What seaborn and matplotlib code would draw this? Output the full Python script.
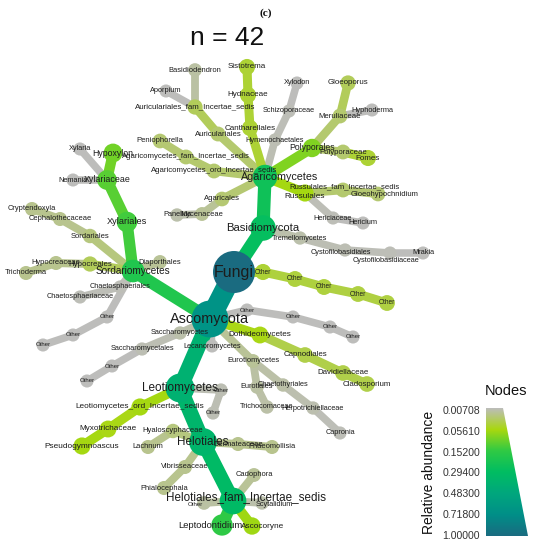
import numpy as np
import pandas as pd
import seaborn as sns
import matplotlib

matplotlib.use("Agg")

import matplotlib.pyplot as plt
from matplotlib.colors import LinearSegmentedColormap
from matplotlib.patches import Polygon

# heat tree: taxon ids ("#n" only makes repeated labels unique), parent, relative abundance,
# and the node position read off the original layout (pixels)
taxon = [
    "Fungi", "Ascomycota", "Basidiomycota",
    "Other#1", "Other#2", "Other#3", "Other#4", "Other#5",
    "Agaricomycetes", "Tremellomycetes", "Cystofilobasidiales", "Cystofilobasidiaceae", "Mrakia",
    "Polyporales", "Polyporaceae", "Fomes", "Meruliaceae", "Gloeoporus", "Hyphoderma",
    "Hymenochaetales", "Schizoporaceae", "Xylodon",
    "Cantharellales", "Hydnaceae", "Sistotrema",
    "Auriculariales", "Auriculariales_fam_Incertae_sedis", "Basidiodendron", "Aporpium",
    "Agaricomycetes_ord_Incertae_sedis", "Agaricomycetes_fam_Incertae_sedis", "Peniophorella",
    "Agaricales", "Mycenaceae", "Panellus",
    "Russulales", "Russulales_fam_Incertae_sedis", "Gloeohypochnidium", "Hericiaceae", "Hericium",
    "Sordariomycetes", "Xylariales", "Xylariaceae", "Hypoxylon", "Xylaria", "Nemania",
    "Sordariales", "Cephalothecaceae", "Cryptendoxyla",
    "Hypocreales", "Hypocreaceae", "Trichoderma", "Diaporthales",
    "Chaetosphaeriales", "Chaetosphaeriaceae", "Other#6", "Other#7", "Other#8",
    "Saccharomycetes", "Saccharomycetales", "Other#9", "Other#10",
    "Lecanoromycetes", "Other#11", "Other#12", "Other#13", "Other#14",
    "Dothideomycetes", "Capnodiales", "Davidiellaceae", "Cladosporium",
    "Eurotiomycetes", "Eurotiales", "Trichocomaceae", "Chaetothyriales",
    "Herpotrichiellaceae", "Capronia",
    "Leotiomycetes", "Other#15", "Other#16",
    "Leotiomycetes_ord_Incertae_sedis", "Myxotrichaceae", "Pseudogymnoascus",
    "Helotiales", "Hyaloscyphaceae", "Lachnum", "Vibrisseaceae", "Phialocephala",
    "Dermateaceae", "Phaeomollisia",
    "Helotiales_fam_Incertae_sedis", "Leptodontidium", "Ascocoryne", "Cadophora",
    "Scytalidium", "Other#17",
]
parent = [
    None, "Fungi", "Fungi",
    "Fungi", "Other#1", "Other#2", "Other#3", "Other#4",
    "Basidiomycota", "Basidiomycota", "Tremellomycetes", "Cystofilobasidiales", "Cystofilobasidiaceae",
    "Agaricomycetes", "Polyporales", "Polyporaceae", "Polyporales", "Meruliaceae", "Meruliaceae",
    "Agaricomycetes", "Hymenochaetales", "Schizoporaceae",
    "Agaricomycetes", "Cantharellales", "Hydnaceae",
    "Agaricomycetes", "Auriculariales", "Auriculariales_fam_Incertae_sedis",
    "Auriculariales_fam_Incertae_sedis",
    "Agaricomycetes", "Agaricomycetes_ord_Incertae_sedis", "Agaricomycetes_fam_Incertae_sedis",
    "Agaricomycetes", "Agaricales", "Mycenaceae",
    "Agaricomycetes", "Russulales", "Russulales_fam_Incertae_sedis", "Russulales", "Hericiaceae",
    "Ascomycota", "Sordariomycetes", "Xylariales", "Xylariaceae", "Xylariaceae", "Xylariaceae",
    "Sordariomycetes", "Sordariales", "Cephalothecaceae",
    "Sordariomycetes", "Hypocreales", "Hypocreaceae", "Sordariomycetes",
    "Sordariomycetes", "Chaetosphaeriales", "Sordariomycetes", "Other#6", "Other#7",
    "Ascomycota", "Saccharomycetes", "Saccharomycetales", "Other#9",
    "Ascomycota", "Ascomycota", "Other#11", "Other#12", "Other#13",
    "Ascomycota", "Dothideomycetes", "Capnodiales", "Davidiellaceae",
    "Ascomycota", "Eurotiomycetes", "Eurotiales", "Eurotiomycetes",
    "Chaetothyriales", "Herpotrichiellaceae",
    "Ascomycota", "Leotiomycetes", "Other#15",
    "Leotiomycetes", "Leotiomycetes_ord_Incertae_sedis", "Myxotrichaceae",
    "Leotiomycetes", "Helotiales", "Hyaloscyphaceae", "Helotiales", "Vibrisseaceae",
    "Helotiales", "Dermateaceae",
    "Helotiales", "Helotiales_fam_Incertae_sedis", "Helotiales_fam_Incertae_sedis",
    "Helotiales_fam_Incertae_sedis", "Helotiales_fam_Incertae_sedis", "Helotiales_fam_Incertae_sedis",
]
abundance = [
    1.0, 0.68, 0.28,
    0.045, 0.043, 0.043, 0.042, 0.042,
    0.25, 0.012, 0.010, 0.009, 0.008,
    0.09, 0.030, 0.045, 0.030, 0.035, 0.008,
    0.010, 0.009, 0.008,
    0.045, 0.045, 0.045,
    0.030, 0.035, 0.015, 0.008,
    0.030, 0.030, 0.028,
    0.028, 0.018, 0.012,
    0.06, 0.030, 0.028, 0.009, 0.008,
    0.20, 0.14, 0.12, 0.10, 0.008, 0.008,
    0.025, 0.020, 0.020,
    0.035, 0.020, 0.020, 0.018,
    0.009, 0.009, 0.008, 0.008, 0.008,
    0.012, 0.010, 0.008, 0.008,
    0.008, 0.008, 0.008, 0.008, 0.008,
    0.055, 0.040, 0.040, 0.040,
    0.018, 0.014, 0.013, 0.013,
    0.011, 0.009,
    0.40, 0.010, 0.010,
    0.06, 0.055, 0.06,
    0.36, 0.025, 0.020, 0.020, 0.020,
    0.020, 0.020,
    0.32, 0.16, 0.065, 0.018,
    0.012, 0.015,
]
node_x = [
    234, 210, 263,
    263, 295, 324, 358, 387,
    265, 300, 345, 390, 423,
    312, 343, 368, 340, 348, 372,
    275, 289, 297,
    250, 248, 247,
    218, 195, 195, 166,
    214, 186, 160,
    222, 202, 177,
    305, 343, 378, 333, 363,
    133, 127, 107, 113, 80, 73,
    90, 60, 32,
    90, 56, 26, 160,
    120, 80, 107, 73, 43,
    180, 142, 112, 87,
    212, 247, 293, 330, 353,
    260, 305, 343, 367,
    253, 257, 267, 283,
    313, 340,
    180, 221, 213,
    140, 108, 82,
    203, 173, 148, 185, 164,
    238, 272,
    233, 222, 252, 254,
    262, 204,
]
node_y = [
    272, 319, 228,
    272, 279, 287, 294, 303,
    177, 238, 250, 253, 253,
    148, 152, 158, 116, 83, 110,
    140, 111, 83,
    128, 95, 67,
    134, 107, 70, 91,
    171, 157, 141,
    199, 214, 215,
    193, 190, 194, 218, 223,
    271, 222, 180, 153, 149, 180,
    236, 219, 209,
    264, 263, 273, 262,
    287, 297, 317, 335, 345,
    333, 349, 366, 381,
    346, 310, 317, 327, 337,
    335, 355, 373, 384,
    361, 387, 407, 385,
    408, 433,
    388, 390, 413,
    407, 429, 446,
    442, 431, 447, 467, 488,
    444, 447,
    501, 525, 526, 475,
    503, 503,
]

legend_ticks = [0.00708, 0.05610, 0.15200, 0.29400, 0.48300, 0.71800, 1.00000]
legend_labels = ["0.00708", "0.05610", "0.15200", "0.29400", "0.48300", "0.71800", "1.00000"]

PX = 0.72  # points per pixel at dpi 100
pos = np.linspace(0, 1, len(legend_ticks))
cmap = LinearSegmentedColormap.from_list(
    "heat", list(zip(pos, ["#bdbdbb", "#a9d80f", "#30ca44", "#00bd62",
                           "#00a77d", "#008f88", "#1a6b80"])))

df = pd.DataFrame({"taxon": taxon, "parent": parent, "abundance": abundance,
                   "x": node_x, "y": node_y})
df["label"] = df["taxon"].str.split("#").str[0]
df["t"] = np.interp(df["abundance"], legend_ticks, pos)
df["r"] = np.interp(df["t"], pos, [6.5, 8.5, 10.5, 13, 15.5, 19, 21])
df["w"] = np.interp(df["t"], pos, [7.5, 9.5, 11.5, 14, 17, 21, 23])
df["fs"] = np.interp(df["t"], pos, [7.3, 8.2, 9.3, 11.5, 12, 15, 16])
df.loc[df["label"] == "Other", "fs"] *= 0.82
df["s"] = (2 * df["r"] * PX) ** 2
df = df.sort_values("abundance").reset_index(drop=True)
where = df.set_index("taxon")

fig = plt.figure(figsize=(5.46, 5.5), dpi=100)
ax = fig.add_axes([0, 0, 1, 1])

# edges, coloured and sized by the child taxon
for _, row in df.iterrows():
    if row["parent"] is None:
        continue
    p = where.loc[row["parent"]]
    ax.plot([p["x"], row["x"]], [p["y"], row["y"]], color=cmap(row["t"]),
            lw=row["w"] * PX, solid_capstyle="round", zorder=1)

sns.scatterplot(data=df, x="x", y="y", hue="t", palette=cmap, hue_norm=(0, 1),
                size="s", sizes=(df["s"].min(), df["s"].max()),
                size_norm=(df["s"].min(), df["s"].max()),
                linewidth=0, legend=False, ax=ax, zorder=2)

# a few labels sit off their node centre in the original
label_shift = {"Agaricomycetes": (15, 0), "Helotiales_fam_Incertae_sedis": (13, -4),
               "Leptodontidium": (-12, 0), "Ascocoryne": (11, 0), "Scytalidium": (12, 1),
               "Other#17": (-9, 2), "Russulales": (0, 3), "Russulales_fam_Incertae_sedis": (2, -3),
               "Cystofilobasidiales": (-4, 3), "Cystofilobasidiaceae": (-4, 7),
               "Gloeohypochnidium": (7, 1)}
for _, row in df.iterrows():
    dx, dy = label_shift.get(row["taxon"], (0, 0))
    ax.text(row["x"] + dx, row["y"] + dy, row["label"], ha="center", va="center",
            fontsize=row["fs"] * PX, family="Liberation Sans", color="#1c1c1c", zorder=3)

ax.text(227, 38, "n = 42", ha="center", va="center", fontsize=19,
        family="Liberation Sans", color="#111111")
ax.text(266, 13, "(c)", ha="center", va="center", fontsize=8,
        family="Liberation Serif", fontweight="bold", color="#111111")

# legend wedge: colour and size scale
grad = np.linspace(0, 1, 256).reshape(-1, 1)
im = ax.imshow(grad, cmap=cmap, extent=(486, 528, 536, 408), aspect="auto",
               origin="upper", zorder=2)
wedge = Polygon([(486, 408), (503, 408), (528, 536), (486, 536)], closed=True,
                transform=ax.transData, facecolor="none", edgecolor="none")
ax.add_patch(wedge)
im.set_clip_path(wedge)
for y, lab in zip(np.linspace(411, 536, len(legend_labels)), legend_labels):
    ax.text(480, y, lab, ha="right", va="center", fontsize=7.6,
            family="Liberation Sans", color="#333333")
ax.text(506, 391, "Nodes", ha="center", va="center", fontsize=10.5,
        family="Liberation Sans", color="#111111")
ax.text(429, 472, "Relative abundance", ha="center", va="center", rotation=90,
        fontsize=10, family="Liberation Sans", color="#111111")

ax.set_xlim(0, 546)
ax.set_ylim(550, 0)
ax.axis("off")
fig.savefig("out.png", dpi=100, facecolor="white")
